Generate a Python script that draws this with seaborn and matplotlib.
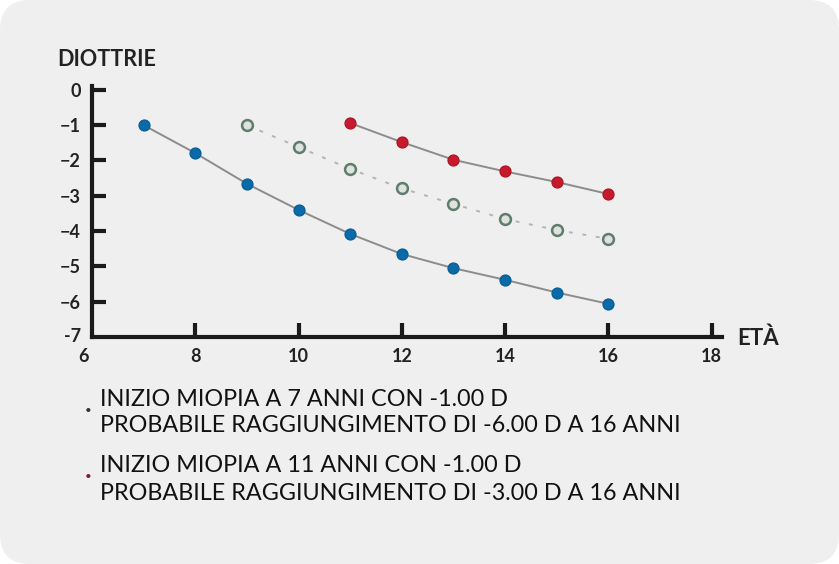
import matplotlib
matplotlib.use("Agg")
import matplotlib.pyplot as plt
from matplotlib.patches import FancyBboxPatch
from matplotlib.transforms import IdentityTransform
import seaborn as sns
import pandas as pd

# eta' (anni) e diottrie
eta_blu = [7, 8, 9, 10, 11, 12, 13, 14, 15, 16]
diottrie_blu = [-1.0, -1.79, -2.66, -3.40, -4.08, -4.65, -5.05, -5.38, -5.74, -6.06]

eta_grigio = [9, 10, 11, 12, 13, 14, 15, 16]
diottrie_grigio = [-1.0, -1.62, -2.24, -2.79, -3.23, -3.66, -3.97, -4.22]

eta_rosso = [11, 12, 13, 14, 15, 16]
diottrie_rosso = [-0.94, -1.48, -1.98, -2.31, -2.61, -2.95]

x_ticks = [8, 10, 12, 14, 16, 18]
y_ticks = [0, -1, -2, -3, -4, -5, -6]

note = [
    "INIZIO MIOPIA A 7 ANNI CON -1.00 D",
    "PROBABILE RAGGIUNGIMENTO DI -6.00 D A 16 ANNI",
    "INIZIO MIOPIA A 11 ANNI CON -1.00 D",
    "PROBABILE RAGGIUNGIMENTO DI -3.00 D A 16 ANNI",
]

sns.set_style("white")
plt.rcParams["font.family"] = ["Lato", "DejaVu Sans"]

bg = "#efefef"
fig = plt.figure(figsize=(8.39, 5.64), dpi=100, facecolor="white")
fig.patches.append(FancyBboxPatch((0, 0), 839, 564,
                                  boxstyle="round,pad=0,rounding_size=30",
                                  transform=IdentityTransform(),
                                  fc=bg, ec="none", zorder=-10))

ax = fig.add_axes([92 / 839, 1 - 337 / 564, (722 - 92) / 839, (337 - 86) / 564])
ax.set_facecolor("none")

df_blu = pd.DataFrame({"eta": eta_blu, "d": diottrie_blu})
df_grigio = pd.DataFrame({"eta": eta_grigio, "d": diottrie_grigio})
df_rosso = pd.DataFrame({"eta": eta_rosso, "d": diottrie_rosso})

ms = 7.8
sns.lineplot(data=df_blu, x="eta", y="d", ax=ax, color="#8c8c8c", lw=1.4,
             marker="o", markersize=ms, markerfacecolor="#0b6aa8",
             markeredgecolor="#0a5f98", markeredgewidth=1)
sns.lineplot(data=df_grigio, x="eta", y="d", ax=ax, color="#b4b4b4", lw=1.4,
             linestyle=(0, (2, 5)), marker="o", markersize=ms,
             markerfacecolor="#dfe3df", markeredgecolor="#5f7d6c",
             markeredgewidth=1.8)
sns.lineplot(data=df_rosso, x="eta", y="d", ax=ax, color="#8c8c8c", lw=1.4,
             marker="o", markersize=ms, markerfacecolor="#c81a2e",
             markeredgecolor="#b01525", markeredgewidth=1)

ax.set_xlim(6, 18.2)
ax.set_ylim(-7, 0.11)
sns.despine(ax=ax)
for s in ["left", "bottom"]:
    ax.spines[s].set_linewidth(3)
    ax.spines[s].set_color("#1a1a1a")

ax.set_xticks(x_ticks)
ax.set_yticks(y_ticks)
ax.tick_params(axis="both", bottom=True, left=True, direction="in",
               length=10, width=3, color="#1a1a1a", labelsize=13,
               labelcolor="#222222", pad=8)
for lab in ax.get_xticklabels() + ax.get_yticklabels():
    lab.set_fontweight("bold")
ax.set_xlabel("")
ax.set_ylabel("")

# etichette agli angoli degli assi
ax.annotate("-7", xy=(0, 0), xycoords="axes fraction", xytext=(-8, 0),
            textcoords="offset points", ha="right", va="center",
            fontsize=13, fontweight="bold", color="#222222")
ax.annotate("6", xy=(0, 0), xycoords="axes fraction", xytext=(-6, -8),
            textcoords="offset points", ha="center", va="top",
            fontsize=13, fontweight="bold", color="#222222")

fig.text(57 / 839, 1 - 60 / 564, "DIOTTRIE", ha="left", va="center",
         fontsize=15.5, fontweight="bold", color="#222222")
fig.text(737 / 839, 1 - 338 / 564, "ETÀ", ha="left", va="center",
         fontsize=16, fontweight="bold", color="#222222")

righe_y = [400, 426, 466, 493]
for testo, y in zip(note, righe_y):
    fig.text(100 / 839, 1 - y / 564, testo, ha="left", va="center",
             fontsize=16.8, color="#111111")
fig.text(85 / 839, 1 - 404 / 564, ".", ha="left", va="center",
         fontsize=20, fontweight="bold", color="#333333")
fig.text(85 / 839, 1 - 470 / 564, ".", ha="left", va="center",
         fontsize=20, fontweight="bold", color="#7a2030")

fig.savefig("out.png", dpi=100, facecolor=fig.get_facecolor())
